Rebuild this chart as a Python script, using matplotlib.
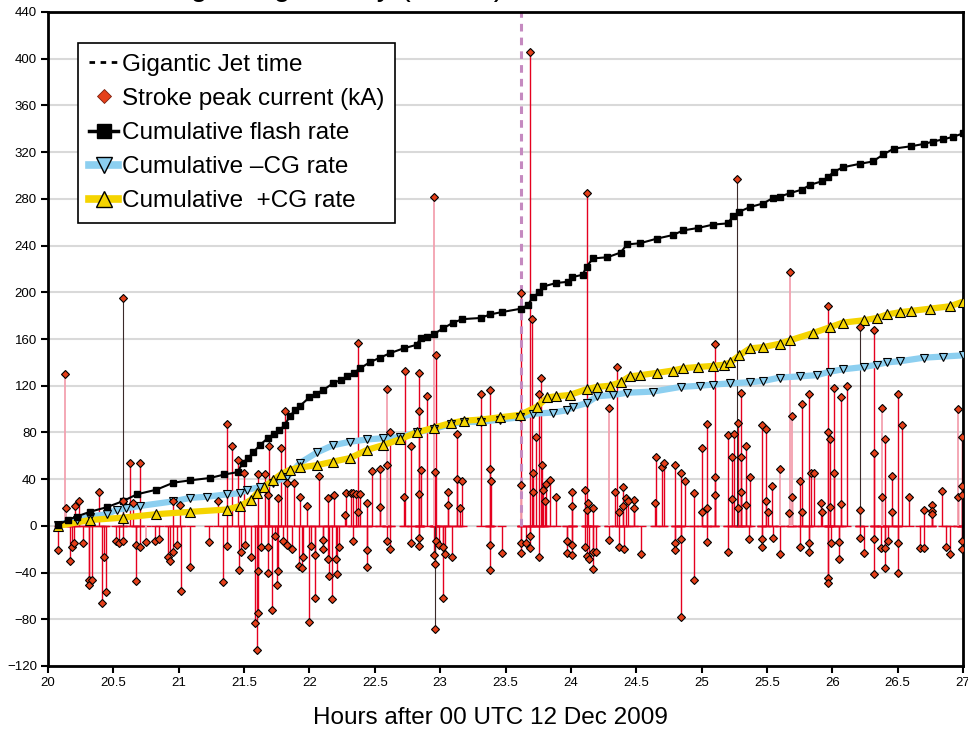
#---Lightning activity around the Gigantic Jet, 12 Dec 2009---

import numpy as np
import matplotlib
matplotlib.use('Agg')
import matplotlib.pyplot as plt
from matplotlib.lines import Line2D

plt.rcParams['font.family'] = ['Liberation Sans', 'DejaVu Sans']

#Gigantic jet time (hours after 00 UTC)
gj_time = 23.62

#Cumulative flash count
flash_t = [20.08, 20.15, 20.22, 20.32, 20.45, 20.57, 20.68, 20.83, 20.96, 21.09,
           21.24, 21.35, 21.45, 21.49, 21.53, 21.57, 21.62, 21.68, 21.73, 21.77,
           21.81, 21.85, 21.89, 21.93, 22.0, 22.05, 22.1, 22.18, 22.24, 22.29,
           22.34, 22.39, 22.46, 22.54, 22.62, 22.72, 22.82, 22.85, 22.9, 22.95,
           23.02, 23.1, 23.17, 23.31, 23.38, 23.47, 23.62, 23.67, 23.71, 23.76,
           23.79, 23.89, 23.98, 24.01, 24.09, 24.12, 24.17, 24.28, 24.38, 24.43,
           24.53, 24.66, 24.78, 24.86, 24.97, 25.09, 25.2, 25.24, 25.29, 25.37,
           25.47, 25.55, 25.6, 25.68, 25.77, 25.83, 25.92, 25.97, 26.01, 26.08,
           26.21, 26.31, 26.39, 26.47, 26.6, 26.7, 26.77, 26.85, 26.92, 27.0]
flash_n = [1, 5, 8, 12, 16, 21, 27, 31, 37, 39,
           41, 44, 46, 54, 58, 63, 69, 75, 79, 82,
           86, 94, 99, 103, 110, 113, 116, 122, 125, 128,
           131, 135, 140, 144, 148, 152, 155, 161, 162, 164,
           169, 174, 177, 178, 181, 183, 186, 189, 196, 200,
           205, 208, 209, 213, 215, 222, 229, 230, 234, 241,
           242, 246, 249, 253, 255, 258, 259, 265, 269, 273,
           276, 281, 282, 285, 288, 292, 295, 299, 303, 307,
           310, 312, 318, 323, 325, 327, 329, 331, 333, 336]

#Cumulative -CG count
neg_t = [20.08, 20.22, 20.32, 20.45, 20.53, 20.6, 20.7, 20.96, 21.09, 21.22,
         21.37, 21.47, 21.52, 21.62, 21.72, 21.83, 21.93, 22.06, 22.18, 22.31,
         22.44, 22.56, 22.69, 22.82, 22.95, 23.08, 23.18, 23.31, 23.46, 23.61,
         23.71, 23.86, 23.97, 24.02, 24.12, 24.2, 24.32, 24.43, 24.63, 24.84,
         24.99, 25.09, 25.22, 25.37, 25.47, 25.6, 25.75, 25.88, 25.98, 26.08,
         26.24, 26.34, 26.42, 26.52, 26.7, 26.85, 27.0]
neg_n = [1, 5, 8, 10, 14, 15, 17, 21, 24, 25,
         27, 28, 31, 33, 37, 42, 54, 63, 69, 72,
         74, 75, 76, 80, 83, 87, 89, 89, 91, 93,
         96, 97, 99, 102, 105, 111, 112, 114, 115, 119,
         120, 121, 122, 123, 124, 127, 128, 129, 132, 134,
         136, 138, 140, 141, 144, 145, 146]

#Cumulative +CG count
pos_t = [20.08, 20.32, 20.57, 20.83, 21.09, 21.37, 21.47, 21.55, 21.6, 21.65,
         21.72, 21.78, 21.85, 21.93, 22.06, 22.18, 22.31, 22.44, 22.56, 22.69,
         22.82, 22.95, 23.08, 23.18, 23.31, 23.46, 23.61, 23.74, 23.82, 23.89,
         23.99, 24.12, 24.2, 24.3, 24.38, 24.45, 24.53, 24.66, 24.78, 24.86,
         24.97, 25.09, 25.17, 25.22, 25.29, 25.37, 25.47, 25.6, 25.68, 25.85,
         25.98, 26.08, 26.24, 26.34, 26.42, 26.52, 26.6, 26.75, 26.9, 27.0]
pos_n = [0, 5, 7, 10, 12, 14, 17, 22, 28, 33,
         39, 44, 48, 50, 52, 55, 58, 65, 69, 74,
         80, 84, 88, 90, 91, 93, 95, 102, 110, 111,
         112, 117, 119, 120, 123, 128, 129, 131, 133, 135,
         136, 137, 138, 140, 146, 152, 153, 156, 159, 165,
         170, 174, 176, 178, 181, 183, 184, 186, 188, 192]

#Stroke peak currents (kA)
strokes_t = [20.21, 20.24, 20.39, 20.57, 20.63, 20.70, 20.65, 21.01, 20.96, 21.37,
             21.41, 21.45, 21.50, 21.30, 21.61, 21.66, 21.69, 21.78, 21.81, 21.76,
             21.68, 21.83, 21.88, 22.07, 22.14, 22.19, 21.98, 21.93, 22.27, 22.28,
             22.32, 22.33, 22.37, 22.36, 22.39, 22.37, 22.44, 22.48, 22.54, 22.54,
             22.59, 22.62, 22.72, 22.73, 22.78, 22.84, 22.84, 22.84, 22.85, 22.90,
             22.96, 22.97, 23.06, 23.06, 23.13, 23.13, 23.15, 23.17, 23.31, 23.38,
             23.38, 23.39, 23.62, 23.69, 23.70, 23.71, 23.71, 23.73, 23.76, 23.77,
             23.78, 23.79, 23.80, 23.81, 23.84, 23.89, 24.01, 24.01, 24.11, 24.12,
             24.12, 24.17, 24.13, 24.34, 24.35, 24.37, 24.40, 24.40, 24.42, 24.48,
             24.48, 24.44, 24.65, 24.64, 24.70, 24.71, 24.80, 24.84, 24.87, 24.94,
             25.00, 25.00, 25.04, 25.04, 25.10, 25.10, 25.10, 25.20, 25.23, 25.23,
             25.25, 25.28, 25.30, 25.30, 25.30, 25.34, 25.34, 25.37, 25.28, 25.46,
             25.49, 25.49, 25.51, 25.54, 25.69, 25.67, 25.75, 25.77, 25.77, 25.82,
             25.84, 25.86, 25.91, 25.92, 25.97, 25.98, 25.98, 25.97, 26.01, 26.01,
             26.07, 26.07, 26.11, 26.21, 26.32, 26.32, 26.38, 26.40, 26.46, 26.46,
             26.50, 26.53, 26.59, 26.70, 26.76, 26.76, 26.76, 26.84, 26.96, 26.99,
             26.99, 26.99,
             20.08, 20.17, 20.18, 20.20, 20.27, 20.31, 20.31, 20.34, 20.41, 20.43,
             20.44, 20.52, 20.54, 20.57, 20.67, 20.67, 20.70, 20.82, 20.85, 20.92,
             20.93, 20.96, 20.99, 21.02, 21.09, 21.23, 21.34, 21.37, 21.46, 21.48,
             21.51, 21.55, 21.58, 21.60, 21.61, 21.61, 21.63, 21.68, 21.68, 21.71,
             21.75, 21.76, 21.74, 21.80, 21.83, 21.87, 21.92, 21.94, 21.95, 22.00,
             22.01, 22.04, 22.04, 22.10, 22.10, 22.15, 22.14, 22.17, 22.20, 22.21,
             22.23, 22.33, 22.44, 22.44, 22.59, 22.62, 22.78, 22.84, 22.84, 22.95,
             22.96, 22.97, 22.99, 23.02, 23.02, 23.04, 23.09, 23.38, 23.38, 23.47,
             23.62, 23.62, 23.66, 23.69, 23.69, 23.76, 23.97, 23.97, 24.01, 24.01,
             24.11, 24.12, 24.14, 24.17, 24.17, 24.19, 24.29, 24.37, 24.41, 24.54,
             24.80, 24.80, 24.84, 24.84, 24.94, 25.04, 25.20, 25.36, 25.46, 25.46,
             25.55, 25.60, 25.75, 25.82, 25.82, 25.97, 25.97, 25.99, 26.05, 26.05,
             26.21, 26.24, 26.32, 26.32, 26.37, 26.40, 26.40, 26.43, 26.50, 26.50,
             26.67, 26.70, 26.87, 26.90, 26.99, 26.99]
strokes_kA = [17, 21, 29, 21, 54, 54, 20, 18, 21, 87,
              68, 56, 45, 21, 44, 44, 68, 67, 98, 24,
              26, 37, 37, 43, 24, 26, 17, 25, 9, 28,
              28, 28, 157, 27, 27, 12, 20, 47, 49, 16,
              52, 80, 25, 133, 68, 98, 27, 131, 48, 111,
              46, 146, 29, 18, 79, 40, 15, 38, 113, 116,
              49, 38, 199, 406, 177, 29, 45, 76, 113, 127,
              52, 31, 21, 36, 39, 25, 29, 17, 31, 14,
              285, 15, 20, 29, 136, 12, 33, 17, 24, 22,
              15, 21, 59, 20, 50, 54, 52, 45, 38, 28,
              67, 12, 87, 15, 156, 42, 26, 78, 59, 23,
              79, 88, 114, 59, 29, 68, 18, 42, 15, 86,
              83, 21, 12, 34, 25, 11, 38, 104, 12, 113,
              45, 45, 20, 12, 80, 74, 16, 188, 118, 45,
              110, 19, 120, 14, 62, 168, 25, 74, 43, 12,
              113, 86, 25, 14, 18, 13, 10, 30, 25, 76,
              34, 26,
              -21, -30, -18, -15, -15, -46, -51, -46, -66, -27,
              -57, -13, -15, -13, -47, -16, -18, -13, -11, -27,
              -30, -22, -16, -56, -35, -14, -48, -17, -38, -22,
              -16, -27, -83, -106, -39, -75, -18, -18, -40, -72,
              -51, -39, -9, -13, -16, -20, -34, -36, -27, -82,
              -17, -62, -25, -12, -20, -43, -28, -63, -28, -41,
              -18, -13, -21, -35, -13, -20, -15, -10, -17, -25,
              -33, -13, -16, -62, -18, -24, -27, -16, -38, -23,
              -15, -23, -15, -9, -19, -27, -13, -23, -16, -25,
              -18, -26, -28, -22, -37, -22, -12, -18, -20, -24,
              -15, -21, -11, -78, -46, -14, -22, -11, -11, -18,
              -10, -24, -18, -15, -22, -45, -49, -15, -14, -28,
              -10, -23, -11, -41, -19, -19, -36, -13, -15, -40,
              -19, -19, -18, -24, -13, -20]

#strokes drawn with a pale stem / a dark stem in the original
pale_t = [20.13, 20.14, 20.75, 22.59, 22.95, 23.62, 24.29, 25.60, 25.68, 25.69, 26.38, 26.96]
pale_kA = [130, 15, -14, 117, 282, 35, 101, 49, 217, 94, 101, 100]
dark_t = [20.57, 22.96, 25.27, 26.21]
dark_kA = [195, -88, 297, 170]

y_ticks = np.arange(-120, 441, 40)
x_ticks = np.arange(20, 27.01, 0.5)
x_ticklabels = ['20', '20.5', '21', '21.5', '22', '22.5', '23', '23.5',
                '24', '24.5', '25', '25.5', '26', '26.5', '27']

red = '#e5001f'
pale = '#f3a1b0'
dark = '#3a2a2a'
diamond = '#e5401a'
blue = '#8ccff0'
yellow = '#f5d400'

fig = plt.figure(figsize=(9.68, 7.32), dpi=100)
ax = fig.add_axes([48/968, 66/732, 915/968, 654/732])

#title, mostly cut off above the figure
fig.text(167/968, 1 + 5.0/732, 'Lightning activity (NLDN)', fontsize=22,
         ha='left', va='baseline')

ax.yaxis.grid(True, color='#d9d9d9', lw=1.5)
ax.set_axisbelow(True)

#stems
all_t = strokes_t + pale_t + dark_t
ax.hlines(np.zeros(len(all_t)), np.array(all_t) - 0.035, np.array(all_t) + 0.035,
          color=red, lw=1, zorder=2)
ax.vlines(strokes_t, 0, strokes_kA, color=red, lw=1, zorder=2)
ax.vlines(pale_t, 0, pale_kA, color=pale, lw=1.3, zorder=2)
ax.vlines(dark_t, 0, dark_kA, color=dark, lw=0.8, zorder=2)

#GJ time
ax.plot([gj_time, gj_time], [0, 440], color='#c58ac0', lw=2.2, ls=(0, (2.5, 2)), zorder=2.5)

#cumulative curves
ax.plot(neg_t, neg_n, color=blue, lw=4.5, zorder=3, solid_capstyle='butt')
ax.plot(neg_t, neg_n, ls='none', marker='v', ms=6, mfc=blue, mec='black', mew=0.8, zorder=3.2)
ax.plot(pos_t, pos_n, color=yellow, lw=4.5, zorder=3, solid_capstyle='butt')
ax.plot(pos_t, pos_n, ls='none', marker='^', ms=6.5, mfc=yellow, mec='black', mew=0.8, zorder=3.2)
ax.plot(flash_t, flash_n, color='black', lw=1.5, marker='s', ms=4, zorder=3.4)

#stroke markers
ax.plot(strokes_t + pale_t + dark_t, strokes_kA + pale_kA + dark_kA, ls='none',
        marker='D', ms=4.5, mfc=diamond, mec='black', mew=0.8, zorder=4)

ax.set_xlim(20, 27)
ax.set_ylim(-120, 440)
ax.set_yticks(y_ticks)
ax.set_xticks(x_ticks)
ax.set_xticklabels(x_ticklabels)
for lab in ax.get_xticklabels() + ax.get_yticklabels():
    lab.set_family(['Liberation Sans Narrow', 'Liberation Sans', 'DejaVu Sans'])
ax.tick_params(direction='out', length=5, width=1.5, labelsize=9.5, pad=3)
for s in ax.spines.values():
    s.set_linewidth(2)
ax.set_xlabel('Hours after 00 UTC 12 Dec 2009', fontsize=17.5)
ax.xaxis.set_label_coords((490 - 48) / 915, -0.063)

handles = [
    Line2D([], [], color='black', lw=2, ls=(0, (2, 2))),
    Line2D([], [], ls='none', marker='D', ms=7.5, mfc=diamond, mec='#7a2010', mew=0.6),
    Line2D([], [], color='black', lw=2.5, marker='s', ms=10),
    Line2D([], [], color=blue, lw=5.5, marker='v', ms=11, mfc=blue, mec='black', mew=1),
    Line2D([], [], color=yellow, lw=5.5, marker='^', ms=11, mfc=yellow, mec='black', mew=1),
]
labels = ['Gigantic Jet time', 'Stroke peak current (kA)', 'Cumulative flash rate',
          'Cumulative \u2013CG rate', 'Cumulative  +CG rate']
leg = ax.legend(handles, labels, loc='upper left', bbox_to_anchor=(0.0328, 0.953),
                fontsize=17.5, frameon=True, fancybox=False, edgecolor='black',
                framealpha=1, handlelength=1.2, handletextpad=0.15, labelspacing=0.5,
                borderpad=0.45, borderaxespad=0)
leg.get_frame().set_linewidth(1.2)
leg.set_zorder(6)

plt.savefig('out.png', dpi=100)
